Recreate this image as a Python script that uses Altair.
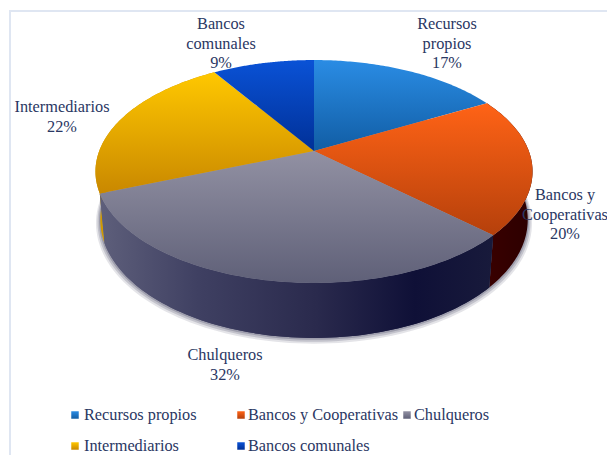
import math
import altair as alt

categories = ["Recursos propios", "Bancos y Cooperativas", "Chulqueros", "Intermediarios", "Bancos comunales"]
values = [17, 20, 32, 22, 9]
label_lines = ["Recursos\npropios\n17%", "Bancos y\nCooperativas\n20%", "Chulqueros\n32%", "Intermediarios\n22%", "Bancos\ncomunales\n9%"]
label_x = [447, 565, 225, 62, 221]
label_y = [24, 195, 355, 107, 24]
legend_sym_x = [75, 241, 407, 75, 241]
legend_text_x = [84, 248, 414, 84, 248]
legend_y = [415, 415, 415, 446, 446]
top_stops = [("#2a8ce4", "#115da4"), ("#ff6316", "#b5400b"), ("#9291a3", "#5f6078"), ("#ffc800", "#c98800"), ("#0a52d6", "#003097")]

TEXT = "#2a3763"
SERIF = "'Liberation Serif', 'Times New Roman', Times, serif"
OFF = 8
APEX_X, APEX_Y = 314, 151
A, C, K = 214.8, 107.7, 0.184
DROP, STRETCH, NARROW = 47, 1.06, 0.978


def top_pt(pct):
    t = 2 * math.pi * pct / 100
    u, v = math.sin(t), math.cos(t)
    d = 1 + K * v
    return A * u / d, C * v / d


def top_xy(pct):
    x, y = top_pt(pct)
    return [APEX_X + x - OFF, APEX_Y - y - OFF]


def bot_xy(pct, grow=1.0, shift=0.0):
    x, y = top_pt(pct)
    return [APEX_X + x * NARROW * grow - OFF, APEX_Y + DROP - y * STRETCH * grow - OFF + shift]


def arc_range(a, b, n=80):
    return [a + (b - a) * i / n for i in range(n + 1)]


def shape(ring):
    return {"type": "Feature", "properties": {}, "geometry": {"type": "Polygon", "coordinates": [ring + [ring[0]]]}}


def vgrad(c0, c1):
    return alt.LinearGradient(gradient="linear", x1=0, x2=0, y1=0, y2=1,
                              stops=[alt.GradientStop(color=c0, offset=0), alt.GradientStop(color=c1, offset=1)])


def hgrad(pairs):
    return alt.LinearGradient(gradient="linear", x1=0, x2=1, y1=0, y2=0,
                              stops=[alt.GradientStop(color=c, offset=o) for o, c in pairs])


PROJ = alt.Projection(type="identity", scale=1, translate=[0, 0])


def geo(feature, **mark):
    return alt.Chart(alt.Data(values=[feature])).mark_geoshape(strokeWidth=0, **mark).project(**PROJ.to_dict())


starts = [sum(values[:i]) for i in range(len(values))]
ends = [sum(values[:i + 1]) for i in range(len(values))]

layers = []

# soft shadow under the pie
for grow, shift, op in [(1.02, 3, 0.18), (1.013, 2, 0.28), (1.006, 1, 0.4)]:
    ring = [bot_xy(p, grow, shift) for p in arc_range(0, 100, 200)]
    layers.append(geo(shape(ring), fill="#6a6a80", opacity=op))

# outer walls of the slices that face the viewer
wall_fills = {
    1: hgrad([(0, "#3a0000"), (1, "#2c0000")]),
    2: hgrad([(0, "#5e5f7b"), (0.25, "#3f4062"), (0.55, "#2a2a4d"), (0.8, "#0f1037"), (1, "#181a3b")]),
    3: hgrad([(0, "#d09a00"), (1, "#c88f00")]),
}
for i, fill in wall_fills.items():
    pcts = arc_range(starts[i], ends[i])
    ring = [top_xy(p) for p in pcts] + [bot_xy(p) for p in reversed(pcts)]
    layers.append(geo(shape(ring), fill=fill))
# gray wall redrawn so that it covers the yellow sliver behind it on the left
pcts = arc_range(starts[2], ends[2])
ring = [top_xy(p) for p in pcts] + [bot_xy(p) for p in reversed(pcts)]
layers.append(geo(shape(ring), fill=wall_fills[2]))

# top faces
for i in range(len(values)):
    ring = [[APEX_X - OFF, APEX_Y - OFF]] + [top_xy(p) for p in arc_range(starts[i], ends[i])]
    layers.append(geo(shape(ring), fill=vgrad(*top_stops[i])))

# frame
layers.append(alt.Chart(alt.Data(values=[{}])).mark_rule(color="#dfe6f2", strokeWidth=2).encode(
    x=alt.value(2), y=alt.value(2), y2=alt.value(447)))
layers.append(alt.Chart(alt.Data(values=[{}])).mark_rule(color="#dfe6f2", strokeWidth=2).encode(
    x=alt.value(2), x2=alt.value(599), y=alt.value(3)))

labels = [{"t": t, "x": x - OFF, "y": y - OFF} for t, x, y in zip(label_lines, label_x, label_y)]
layers.append(alt.Chart(alt.Data(values=labels)).mark_text(
    font=SERIF, fontSize=16.3, color=TEXT, align="center", baseline="middle",
    lineBreak="\n", lineHeight=19.5).encode(
    x=alt.X("x:Q", scale=None, axis=None), y=alt.Y("y:Q", scale=None, axis=None), text="t:N"))

# legend
for i in range(len(categories)):
    row = [{"x": legend_sym_x[i] - OFF, "y": legend_y[i] - OFF}]
    layers.append(alt.Chart(alt.Data(values=row)).mark_square(
        size=56, fill=vgrad(*top_stops[i]), opacity=1).encode(
        x=alt.X("x:Q", scale=None, axis=None), y=alt.Y("y:Q", scale=None, axis=None)))
entries = [{"t": c, "x": x - OFF, "y": y - OFF} for c, x, y in zip(categories, legend_text_x, legend_y)]
layers.append(alt.Chart(alt.Data(values=entries)).mark_text(
    font=SERIF, fontSize=16.3, color=TEXT, align="left", baseline="middle").encode(
    x=alt.X("x:Q", scale=None, axis=None), y=alt.Y("y:Q", scale=None, axis=None), text="t:N"))

chart = alt.layer(*layers).properties(
    width=599, height=447, padding=0, background="white",
    autosize=alt.AutoSizeParams(type="none")
).configure_view(stroke=None)

chart.save("out.html", embed_options={"renderer": "svg", "actions": False})
